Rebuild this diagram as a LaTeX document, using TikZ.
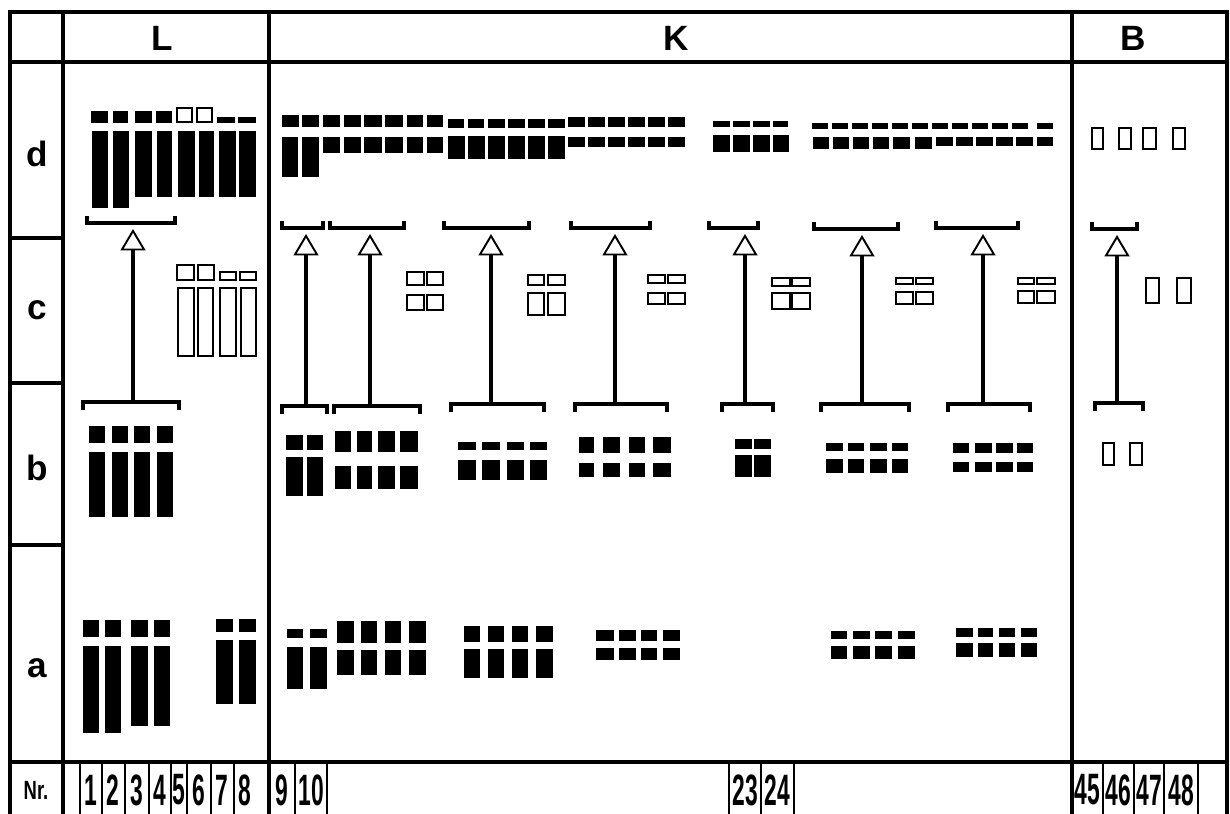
\documentclass[tikz,border=0pt]{standalone}
\usepackage{fontspec}
\setmainfont{Liberation Sans}
\newfontfamily\nrfont[FakeStretch=0.52]{Liberation Sans}
\newfontfamily\nrlabfont[FakeStretch=0.7]{Liberation Sans}
\usetikzlibrary{arrows.meta}

\newcommand{\blocks}[4][blk]{%
  \foreach \xa/\xb in {#2}{\path[#1] (\xa,#3) rectangle (\xb,#4);}}
\newcommand{\brup}[3]{\draw[brk] (#1,{#3-7}) -- (#1,#3) -- (#2,#3) -- (#2,{#3-7});}
\newcommand{\brdown}[3]{\draw[brk] (#1,{#3+8}) -- (#1,#3) -- (#2,#3) -- (#2,{#3+8});}

\begin{document}
\begin{tikzpicture}[x=0.2mm,y=-0.2mm,
    frame/.style={line width=1.8pt},
    thinline/.style={line width=0.8pt},
    blk/.style={fill=black},
    opn/.style={draw=black,fill=white,line width=1.1pt},
    brk/.style={line width=1.8pt},
    stem/.style={line width=2.1pt,shorten >=1.2mm,
                 -{Triangle[open,length=4.3mm,width=5mm,line width=1.1pt]}},
    head/.style={font=\fontsize{20}{24}\selectfont\bfseries},
    rowlab/.style={font=\fontsize{20}{24}\selectfont\bfseries},
    num/.style={font=\nrfont\fontsize{25}{28}\selectfont\bfseries,inner sep=0pt},
    nrlab/.style={font=\nrlabfont\fontsize{15}{18}\selectfont\bfseries,inner sep=0pt}]
  \useasboundingbox (0,0) rectangle (1230,814);
  \draw[frame] (10,814) -- (10,12) -- (1227,12) -- (1227,814);
  \draw[frame] (10,62) -- (1227,62);
  \draw[frame] (10,762) -- (1227,762);
  \foreach \x in {63,269,1072} \draw[frame] (\x,12) -- (\x,814);
  \foreach \y in {238,383,545} \draw[frame] (10,\y) -- (63,\y);
  \foreach \x in {80,102,125,149,171,187,211,234,295,327,729,761,794,1103,1134,1164,1198}
    \draw[thinline] (\x,762) -- (\x,814);

  \node[head] (hL) at (162,38) {L};
  \node[head] (hK) at (676,38) {K};
  \node[head] (hB) at (1133,38) {B};
  \node[rowlab] (rd) at (37,154) {d};
  \node[rowlab] (rc) at (37,310) {c};
  \node[rowlab] (rb) at (37,468) {b};
  \node[rowlab] (ra) at (37,668) {a};
  \node[nrlab] (nr) at (36,790) {Nr.};
  \foreach \n/\x in {1/91,2/113,3/137,4/160,5/179,6/199,7/222,8/245,9/282,10/311,
                     23/745,24/777,45/1087,46/1118,47/1149,48/1181}
    \node[num] (n\n) at (\x,790) {\n};

  \blocks{91/108,113/128,135/152,156/172}{111}{123}
  \blocks[opn]{177/192,197/212}{108}{122}
  \blocks{217/235,238/256}{117}{123}
  \blocks{92/108,113/129}{131}{208}
  \blocks{135/152,157/172,178/195,199/214,219/236,239/256}{131}{197}
  \blocks{282/299,302/319,323/340,344/361,364/382,385/403,407/423,427/443}{115}{127}
  \blocks{448/464,468/484,488/505,508/525,528/545,548/565}{119}{128}
  \blocks{568/585,588/605,608/625,628/645,648/665,668/685}{117}{127}
  \blocks{282/298,302/319}{137}{177}
  \blocks{323/340,344/361,364/382,385/403,407/423,427/443}{137}{153}
  \blocks{448/465,468/485,488/505,508/525,528/545,548/565}{136}{159}
  \blocks{568/585,588/605,608/625,628/645,648/665,668/685}{137}{147}
  \blocks{713/730,733/750,753/770,773/788}{121}{127}
  \blocks{713/730,733/750,753/770,773/789}{135}{152}
  \blocks{812/828,832/848,852/868,872/888,892/908,912/928,932/948,952/968,972/988,992/1008,1012/1028,1037/1053}{123}{129}
  \blocks{813/829,833/849,853/869,873/889,893/910,915/932}{137}{149}
  \blocks{936/953,956/973,976/993,996/1013,1016/1033,1037/1053}{137}{146}
  \blocks[opn]{1092/1103,1119/1131,1143/1156,1173/1185}{128}{149}

  \blocks[opn]{177/194,198/214}{265}{280}
  \blocks[opn]{220/236,240/256}{272}{280}
  \blocks[opn]{178/194,198/213,220/236,241/256}{288}{356}
  \blocks[opn]{407/424,427/443}{272}{285}
  \blocks[opn]{407/424,427/443}{295}{310}
  \blocks[opn]{528/544,548/565}{275}{285}
  \blocks[opn]{528/544,548/565}{293}{315}
  \blocks[opn]{648/665,668/685}{275}{283}
  \blocks[opn]{648/665,668/685}{293}{304}
  \blocks[opn]{772/790,792/810}{278}{286}
  \blocks[opn]{772/790,792/810}{293}{309}
  \blocks[opn]{896/913,916/933}{278}{284}
  \blocks[opn]{896/913,916/933}{292}{304}
  \blocks[opn]{1018/1034,1037/1055}{278}{284}
  \blocks[opn]{1018/1034,1037/1055}{291}{303}
  \blocks[opn]{1146/1159,1177/1191}{278}{303}

  \blocks{89/105,112/128,134/150,157/173}{426}{443}
  \blocks{89/105,112/128,134/150,157/173}{452}{517}
  \blocks{286/303,307/323}{435}{450}
  \blocks{286/303,307/323}{457}{496}
  \blocks{335/351,357/372,378/395,400/418}{431}{452}
  \blocks{335/351,357/372,378/395,400/418}{466}{489}
  \blocks{458/476,482/500,507/524,530/547}{442}{450}
  \blocks{458/476,482/500,507/524,530/547}{460}{480}
  \blocks{579/594,603/620,629/645,653/671}{437}{453}
  \blocks{579/594,603/620,629/645,653/671}{463}{477}
  \blocks{735/752,754/771}{439}{449}
  \blocks{735/752,754/771}{455}{477}
  \blocks{826/843,848/864,870/887,892/908}{443}{451}
  \blocks{826/843,848/864,870/887,892/908}{459}{473}
  \blocks{953/969,975/992,996/1013,1017/1033}{443}{453}
  \blocks{953/969,975/992,996/1013,1017/1033}{462}{472}
  \blocks[opn]{1103/1114,1130/1142}{443}{465}

  \blocks{83/99,105/121,131/148,154/170}{620}{637}
  \blocks{83/99,105/121}{646}{733}
  \blocks{131/148,154/170}{646}{726}
  \blocks{216/233,239/256}{619}{632}
  \blocks{216/233,239/256}{640}{704}
  \blocks{287/303,310/327}{629}{638}
  \blocks{287/303,310/327}{647}{689}
  \blocks{337/354,361/377,385/401,409/426}{621}{643}
  \blocks{337/354,361/377,385/401,409/426}{650}{675}
  \blocks{464/480,488/504,512/528,536/553}{626}{642}
  \blocks{464/480,488/504,512/528,536/553}{649}{678}
  \blocks{596/614,619/636,641/657,663/680}{630}{641}
  \blocks{596/614,619/636,641/657,663/680}{648}{660}
  \blocks{831/847,853/870,875/892,898/915}{631}{639}
  \blocks{831/847,853/870,875/892,898/915}{646}{659}
  \blocks{956/973,978/993,999/1015,1021/1037}{628}{637}
  \blocks{956/973,978/993,999/1015,1021/1037}{643}{657}

  \brup{87}{175}{223}   \brup{282}{323}{228}  \brup{330}{404}{228}
  \brup{444}{529}{228}  \brup{571}{650}{228}  \brup{709}{758}{228}
  \brup{814}{898}{229}  \brup{936}{1018}{228} \brup{1092}{1137}{229}
  \brdown{83}{179}{402}   \brdown{282}{327}{406}  \brdown{334}{420}{406}
  \brdown{451}{544}{404}  \brdown{575}{667}{404}  \brdown{722}{773}{404}
  \brdown{821}{909}{404}  \brdown{948}{1030}{404} \brdown{1095}{1143}{403}

  \foreach \n/\x/\ya/\yb in {L/133/223/402,K1/306/228/406,K2/370/228/406,
      K3/491/228/404,K4/615/228/404,K5/745/228/404,K6/862/229/404,
      K7/983/228/404,B/1117/229/403}{
    \coordinate (t\n) at (\x,\ya);
    \coordinate (s\n) at (\x,\yb);
    \draw[stem] (s\n) -- (t\n);
  }
\end{tikzpicture}
\end{document}
